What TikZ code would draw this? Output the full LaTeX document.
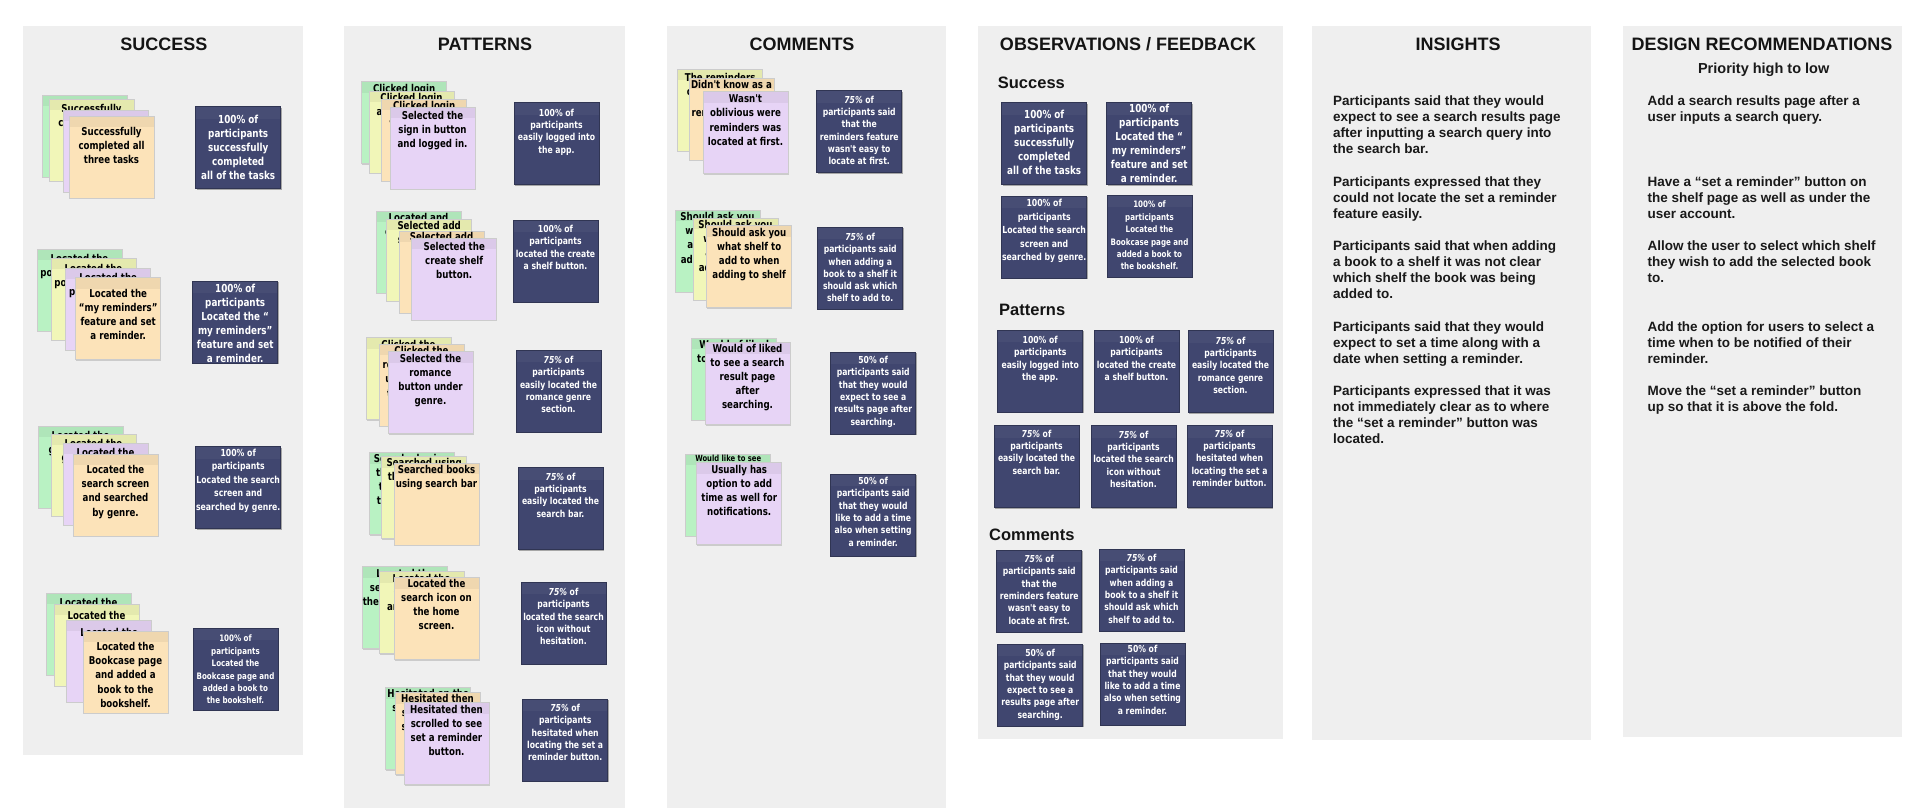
\documentclass[tikz,border=0pt]{standalone}
\usepackage{fontspec}
\setmainfont{Liberation Sans}
\newfontfamily\notefont{DejaVu Sans}[FakeStretch=0.8]
\usetikzlibrary{shadows}
\definecolor{panelbg}{HTML}{EFEFEF}
\definecolor{ngreen}{HTML}{B9F2C3}
\definecolor{nyellow}{HTML}{F1F6B8}
\definecolor{npurple}{HTML}{E7D4F6}
\definecolor{npeach}{HTML}{FCE3B9}
\definecolor{navy}{HTML}{40466F}
\newcommand\snote[7][ntext]{%
  \node[#3] (#2) at (#4,#5) {};
  \node[#1] (#2-t) at ([yshift=-#6pt]#2.north) {#7};}
\newcommand\bbox[6][bsm]{%
  \node[bluebox] (#2) at (#3,#4) {};
  \node[#1] (#2-t) at ([yshift=-#5pt]#2.north) {#6};}
\begin{document}
\begin{tikzpicture}[x=1pt,y=-1pt,
  panel/.style={rectangle, fill=panelbg, draw=none, anchor=north west, inner sep=0pt, outer sep=0pt},
  title/.style={font=\bfseries\fontsize{18}{22}\selectfont, anchor=base, text=black!92, inner sep=0pt},
  subhead/.style={font=\bfseries\fontsize{16.5}{20}\selectfont, anchor=base west, inner sep=0pt, text=black!92},
  para/.style={font=\bfseries\fontsize{13.5}{15.8}\selectfont, align=left, anchor=north west, inner sep=0pt, text=black!90},
  card/.style={rectangle, anchor=north west, minimum width=85pt, minimum height=82pt, inner sep=0pt, outer sep=0pt, line width=0.5pt},
  sticky/.style={card, draw=black!20,
    drop shadow={shadow xshift=0.6pt, shadow yshift=-0.9pt, opacity=0.15, fill=black},
    path picture={\fill[black, opacity=0.05] (path picture bounding box.north west) rectangle ([yshift=-11pt]path picture bounding box.north east);}},
  notegreen/.style={sticky, fill=ngreen},
  noteyellow/.style={sticky, fill=nyellow},
  notepurple/.style={sticky, fill=npurple},
  notepeach/.style={sticky, fill=npeach},
  bluebox/.style={card, fill=navy, draw=navy!75!black,
    drop shadow={shadow xshift=0.8pt, shadow yshift=-1.2pt, opacity=0.3, fill=black},
    path picture={\fill[white, opacity=0.04] (path picture bounding box.north west) rectangle ([yshift=-12pt]path picture bounding box.north east);}},
  ntext/.style={font=\notefont\bfseries\fontsize{10.8}{14.2}\selectfont, align=center, inner sep=0pt, anchor=north, text=black},
  ntiny/.style={ntext, font=\notefont\bfseries\fontsize{8.5}{11}\selectfont},
  bsm/.style={font=\notefont\bfseries\fontsize{9.6}{12.3}\selectfont, align=center, inner sep=0pt, anchor=north, text=white},
  bmid/.style={bsm, font=\notefont\bfseries\fontsize{9.7}{13.5}\selectfont},
  bbig/.style={bsm, font=\notefont\bfseries\fontsize{11}{14}\selectfont},
  bxs/.style={bsm, font=\notefont\bfseries\fontsize{8.9}{12.4}\selectfont}]
\fill[white] (0,0) rectangle (1920,809);
\useasboundingbox (0,0) rectangle (1920,809);

% ---------- panels ----------
\node[panel, minimum width=280pt, minimum height=729pt] (psuccess) at (23,26) {};
\node[panel, minimum width=281pt, minimum height=782pt] (ppatterns) at (344,26) {};
\node[panel, minimum width=279pt, minimum height=782pt] (pcomments) at (667,26) {};
\node[panel, minimum width=305pt, minimum height=713pt] (pobs) at (978,26) {};
\node[panel, minimum width=279pt, minimum height=714pt] (pinsights) at (1312,26) {};
\node[panel, minimum width=279pt, minimum height=711pt] (pdesign) at (1623,26) {};

\node[title] (tsuccess) at (164,50.5) {SUCCESS};
\node[title] (tpatterns) at (485,50.5) {PATTERNS};
\node[title] (tcomments) at (802,50.5) {COMMENTS};
\node[title] (tobs) at (1128,50.5) {OBSERVATIONS / FEEDBACK};
\node[title] (tinsights) at (1458,50.5) {INSIGHTS};
\node[title] (tdesign) at (1762,50.5) {DESIGN RECOMMENDATIONS};

% ---------- SUCCESS ----------
\snote{s1a}{notegreen}{42.7}{95}{5}{Successfully\\completed all\\three tasks}
\snote{s1b}{noteyellow}{49}{99}{5}{Successfully\\completed all\\three tasks}
\snote{s1c}{notepurple}{63}{110}{8}{Successfully\\completed all\\three tasks}
\snote{s1d}{notepeach}{69}{116}{11}{Successfully\\completed all\\three tasks}

\snote{s2a}{notegreen}{37}{249}{5}{Located the\\popup reminder\\option.}
\snote{s2b}{noteyellow}{51}{258}{6}{Located the\\popup reminder\\option.}
\snote{s2c}{notepurple}{65.7}{268}{5}{Located the\\popup reminder\\option.}
\snote{s2d}{notepeach}{75.7}{277.7}{11}{Located the\\“my reminders”\\feature and set\\a reminder.}

\snote{s3a}{notegreen}{38}{426}{5}{Located the\\genre search\\screen.}
\snote{s3b}{noteyellow}{51}{434}{5}{Located the\\genre search\\screen.}
\snote{s3c}{notepurple}{63}{443}{5}{Located the\\genre search\\screen.}
\snote{s3d}{notepeach}{73}{454}{11}{Located the\\search screen\\and searched\\by genre.}

\snote{s4a}{notegreen}{46}{593}{5}{Located the\\bookshelf\\feature.}
\snote{s4b}{noteyellow}{54}{604}{7}{Located the\\bookshelf\\feature.}
\snote{s4c}{notepurple}{66.7}{620}{8}{Located the\\favorites\\shelf.}
\snote{s4d}{notepeach}{83}{631}{11}{Located the\\Bookcase page\\and added a\\book to the\\bookshelf.}

\bbox[bbig]{sb1}{195.7}{106.7}{8}{100\% of\\participants\\successfully\\completed\\all of the tasks}
\bbox[bbig]{sb2}{192.7}{281}{3}{100\% of\\participants\\Located the “\\my reminders”\\feature and set\\a reminder.}
\bbox[bmid]{sb3}{195.7}{446.7}{2}{100\% of\\participants\\Located the search\\screen and\\searched by genre.}
\bbox[bxs]{sb4}{193}{628}{7}{100\% of\\participants\\Located the\\Bookcase page and\\added a book to\\the bookshelf.}

% ---------- PATTERNS ----------
\snote{p1a}{notegreen}{361.7}{81.7}{2}{Clicked login\\and logged in.}
\snote{p1b}{noteyellow}{369}{91}{2}{Clicked login\\and logged in.}
\snote{p1c}{notepeach}{381.7}{99}{2}{Clicked login\\and logged in.}
\snote{p1d}{notepurple}{390}{107}{4}{Selected the\\sign in button\\and logged in.}

\snote{p2a}{notegreen}{376}{211}{2}{Located and\\created shelf.}
\snote{p2b}{noteyellow}{386.7}{219}{2}{Selected add\\shelf button.}
\snote{p2c}{notepeach}{399}{231}{1}{Selected add\\shelf.}
\snote{p2d}{notepurple}{411.7}{238}{4}{Selected the\\create shelf\\button.}

\snote{p3a}{noteyellow}{366}{337.7}{2}{Clicked the\\romance\\genre.}
\snote{p3b}{notepeach}{379}{344}{2}{Clicked the\\romance button\\under genre in\\the home tab.}
\snote{p3c}{notepurple}{388}{351.7}{2}{Selected the\\romance\\button under\\genre.}

\snote{p4a}{notegreen}{369}{452.7}{1}{Searched using\\the search bar\\then typed in\\the book title.}
\snote{p4b}{noteyellow}{381.7}{456.7}{1}{Searched using\\the search bar.}
\snote{p4c}{notepeach}{394}{463}{2}{Searched books\\using search bar}

\snote{p5a}{notegreen}{362.7}{566.7}{2}{Located the\\search icon on\\the home screen.}
\snote{p5b}{noteyellow}{379}{571.7}{2}{Located the\\search icon\\and searched.}
\snote{p5c}{notepeach}{394}{577.7}{1}{Located the\\search icon on\\the home\\screen.}

\snote{p6a}{notegreen}{385.7}{687.7}{1}{Hesitated on the\\set a reminder\\button.}
\snote{p6b}{notepeach}{395}{692.7}{1}{Hesitated then\\scrolled to see\\set a reminder\\button.}
\snote{p6c}{notepurple}{404}{702.7}{2}{Hesitated then\\scrolled to see\\set a reminder\\button.}

\bbox{pb1}{514}{102.7}{6}{100\% of\\participants\\easily logged into\\the app.}
\bbox{pb2}{513}{220}{5}{100\% of\\participants\\located the create\\a shelf button.}
\bbox{pb3}{516}{350}{6}{\textit{75\%} of\\participants\\easily located the\\romance genre\\section.}
\bbox{pb4}{518}{467.7}{5}{\textit{75\%} of\\participants\\easily located the\\search bar.}
\bbox{pb5}{521}{582}{6}{\textit{75\%} of\\participants\\located the search\\icon without\\hesitation.}
\bbox{pb6}{522.7}{699}{5}{\textit{75\%} of\\participants\\hesitated when\\locating the set a\\reminder button.}

% ---------- COMMENTS ----------
\snote{c1a}{noteyellow}{677.7}{69}{4}{The reminders\\could be hard\\to find.}
\snote{c1b}{notepeach}{689}{78}{2}{Didn't know as a\\user where\\reminders were.}
\snote{c1c}{notepurple}{703}{91.7}{3}{Wasn't\\oblivious were\\reminders was\\located at first.}

\snote{c2a}{notegreen}{675}{210}{2}{Should ask you\\what shelf to\\add to when\\adding to shelf}
\snote{c2b}{noteyellow}{693}{218}{2}{Should ask you\\what shelf to\\add to when\\adding to shelf}
\snote{c2c}{notepeach}{706.7}{225.7}{2}{Should ask you\\what shelf to\\add to when\\adding to shelf}

\snote{c3a}{notegreen}{691.7}{338}{2}{Would of liked\\to see a search\\result page.}
\snote{c3b}{notepurple}{705}{342.7}{1}{Would of liked\\to see a search\\result page\\after\\searching.}

\snote[ntiny]{c4a}{notegreen}{685.7}{454}{1}{Would like to see\\an option to add\\a time as well\\for reminders.}
\snote{c4b}{notepurple}{696.7}{462.7}{2}{Usually has\\option to add\\time as well for\\notifications.}

\bbox{cb1}{816.7}{90.7}{5}{\textit{75\%} of\\participants said\\that the\\reminders feature\\wasn't easy to\\locate at first.}
\bbox{cb2}{817.7}{227}{6}{\textit{75\%} of\\participants said\\when adding a\\book to a shelf it\\should ask which\\shelf to add to.}
\bbox{cb3}{830.7}{352}{4}{50\% of\\participants said\\that they would\\expect to see a\\results page after\\searching.}
\bbox{cb4}{830.7}{474}{3}{50\% of\\participants said\\that they would\\like to add a time\\also when setting\\a reminder.}

% ---------- OBSERVATIONS / FEEDBACK ----------
\node[subhead] (hsuccess) at (997.7,88) {Success};
\node[subhead] (hpatterns) at (999,315) {Patterns};
\node[subhead] (hcomments) at (989,540) {Comments};

\bbox[bbig]{os1}{1001.7}{102.7}{7}{100\% of\\participants\\successfully\\completed\\all of the tasks}
\bbox[bbig]{os2}{1106.7}{102.7}{1}{100\% of\\participants\\Located the “\\my reminders”\\feature and set\\a reminder.}
\bbox[bmid]{os3}{1001.7}{196}{3}{100\% of\\participants\\Located the search\\screen and\\searched by genre.}
\bbox[bxs]{os4}{1107}{195}{6}{100\% of\\participants\\Located the\\Bookcase page and\\added a book to\\the bookshelf.}

\bbox{op1}{997.7}{330}{6}{100\% of\\participants\\easily logged into\\the app.}
\bbox{op2}{1094}{330}{6}{100\% of\\participants\\located the create\\a shelf button.}
\bbox{op3}{1188}{330.7}{6}{\textit{75\%} of\\participants\\easily located the\\romance genre\\section.}
\bbox{op4}{994}{425.7}{4}{\textit{75\%} of\\participants\\easily located the\\search bar.}
\bbox{op5}{1091}{425.7}{5}{\textit{75\%} of\\participants\\located the search\\icon without\\hesitation.}
\bbox{op6}{1187}{425.7}{4}{\textit{75\%} of\\participants\\hesitated when\\locating the set a\\reminder button.}

\bbox{oc1}{996.7}{550}{5}{\textit{75\%} of\\participants said\\that the\\reminders feature\\wasn't easy to\\locate at first.}
\bbox{oc2}{1099}{549}{5}{\textit{75\%} of\\participants said\\when adding a\\book to a shelf it\\should ask which\\shelf to add to.}
\bbox{oc3}{997.7}{644}{5}{50\% of\\participants said\\that they would\\expect to see a\\results page after\\searching.}
\bbox{oc4}{1100}{643}{2}{50\% of\\participants said\\that they would\\like to add a time\\also when setting\\a reminder.}

% ---------- INSIGHTS ----------
\node[para] (i1) at (1333,96) {Participants said that they would\\expect to see a search results page\\after inputting a search query into\\the search bar.};
\node[para] (i2) at (1333,176.7) {Participants expressed that they\\could not locate the set a reminder\\feature easily.};
\node[para] (i3) at (1333,241) {Participants said that when adding\\a book to a shelf it was not clear\\which shelf the book was being\\added to.};
\node[para] (i4) at (1333,321.7) {Participants said that they would\\expect to set a time along with a\\date when setting a reminder.};
\node[para] (i5) at (1333,386) {Participants expressed that it was\\not immediately clear as to where\\the “set a reminder” button was\\located.};

% ---------- DESIGN RECOMMENDATIONS ----------
\node[font=\bfseries\fontsize{14.5}{17}\selectfont, anchor=base, inner sep=0pt, text=black!90] (prio) at (1763.7,73.5) {Priority high to low};
\node[para] (d1) at (1647.3,96) {Add a search results page after a\\user inputs a search query.};
\node[para] (d2) at (1647.3,176.7) {Have a “set a reminder” button on\\the shelf page as well as under the\\user account.};
\node[para] (d3) at (1647.3,241) {Allow the user to select which shelf\\they wish to add the selected book\\to.};
\node[para] (d4) at (1647.3,321.7) {Add the option for users to select a\\time when to be notified of their\\reminder.};
\node[para] (d5) at (1647.3,386) {Move the “set a reminder” button\\up so that it is above the fold.};
\end{tikzpicture}
\end{document}
